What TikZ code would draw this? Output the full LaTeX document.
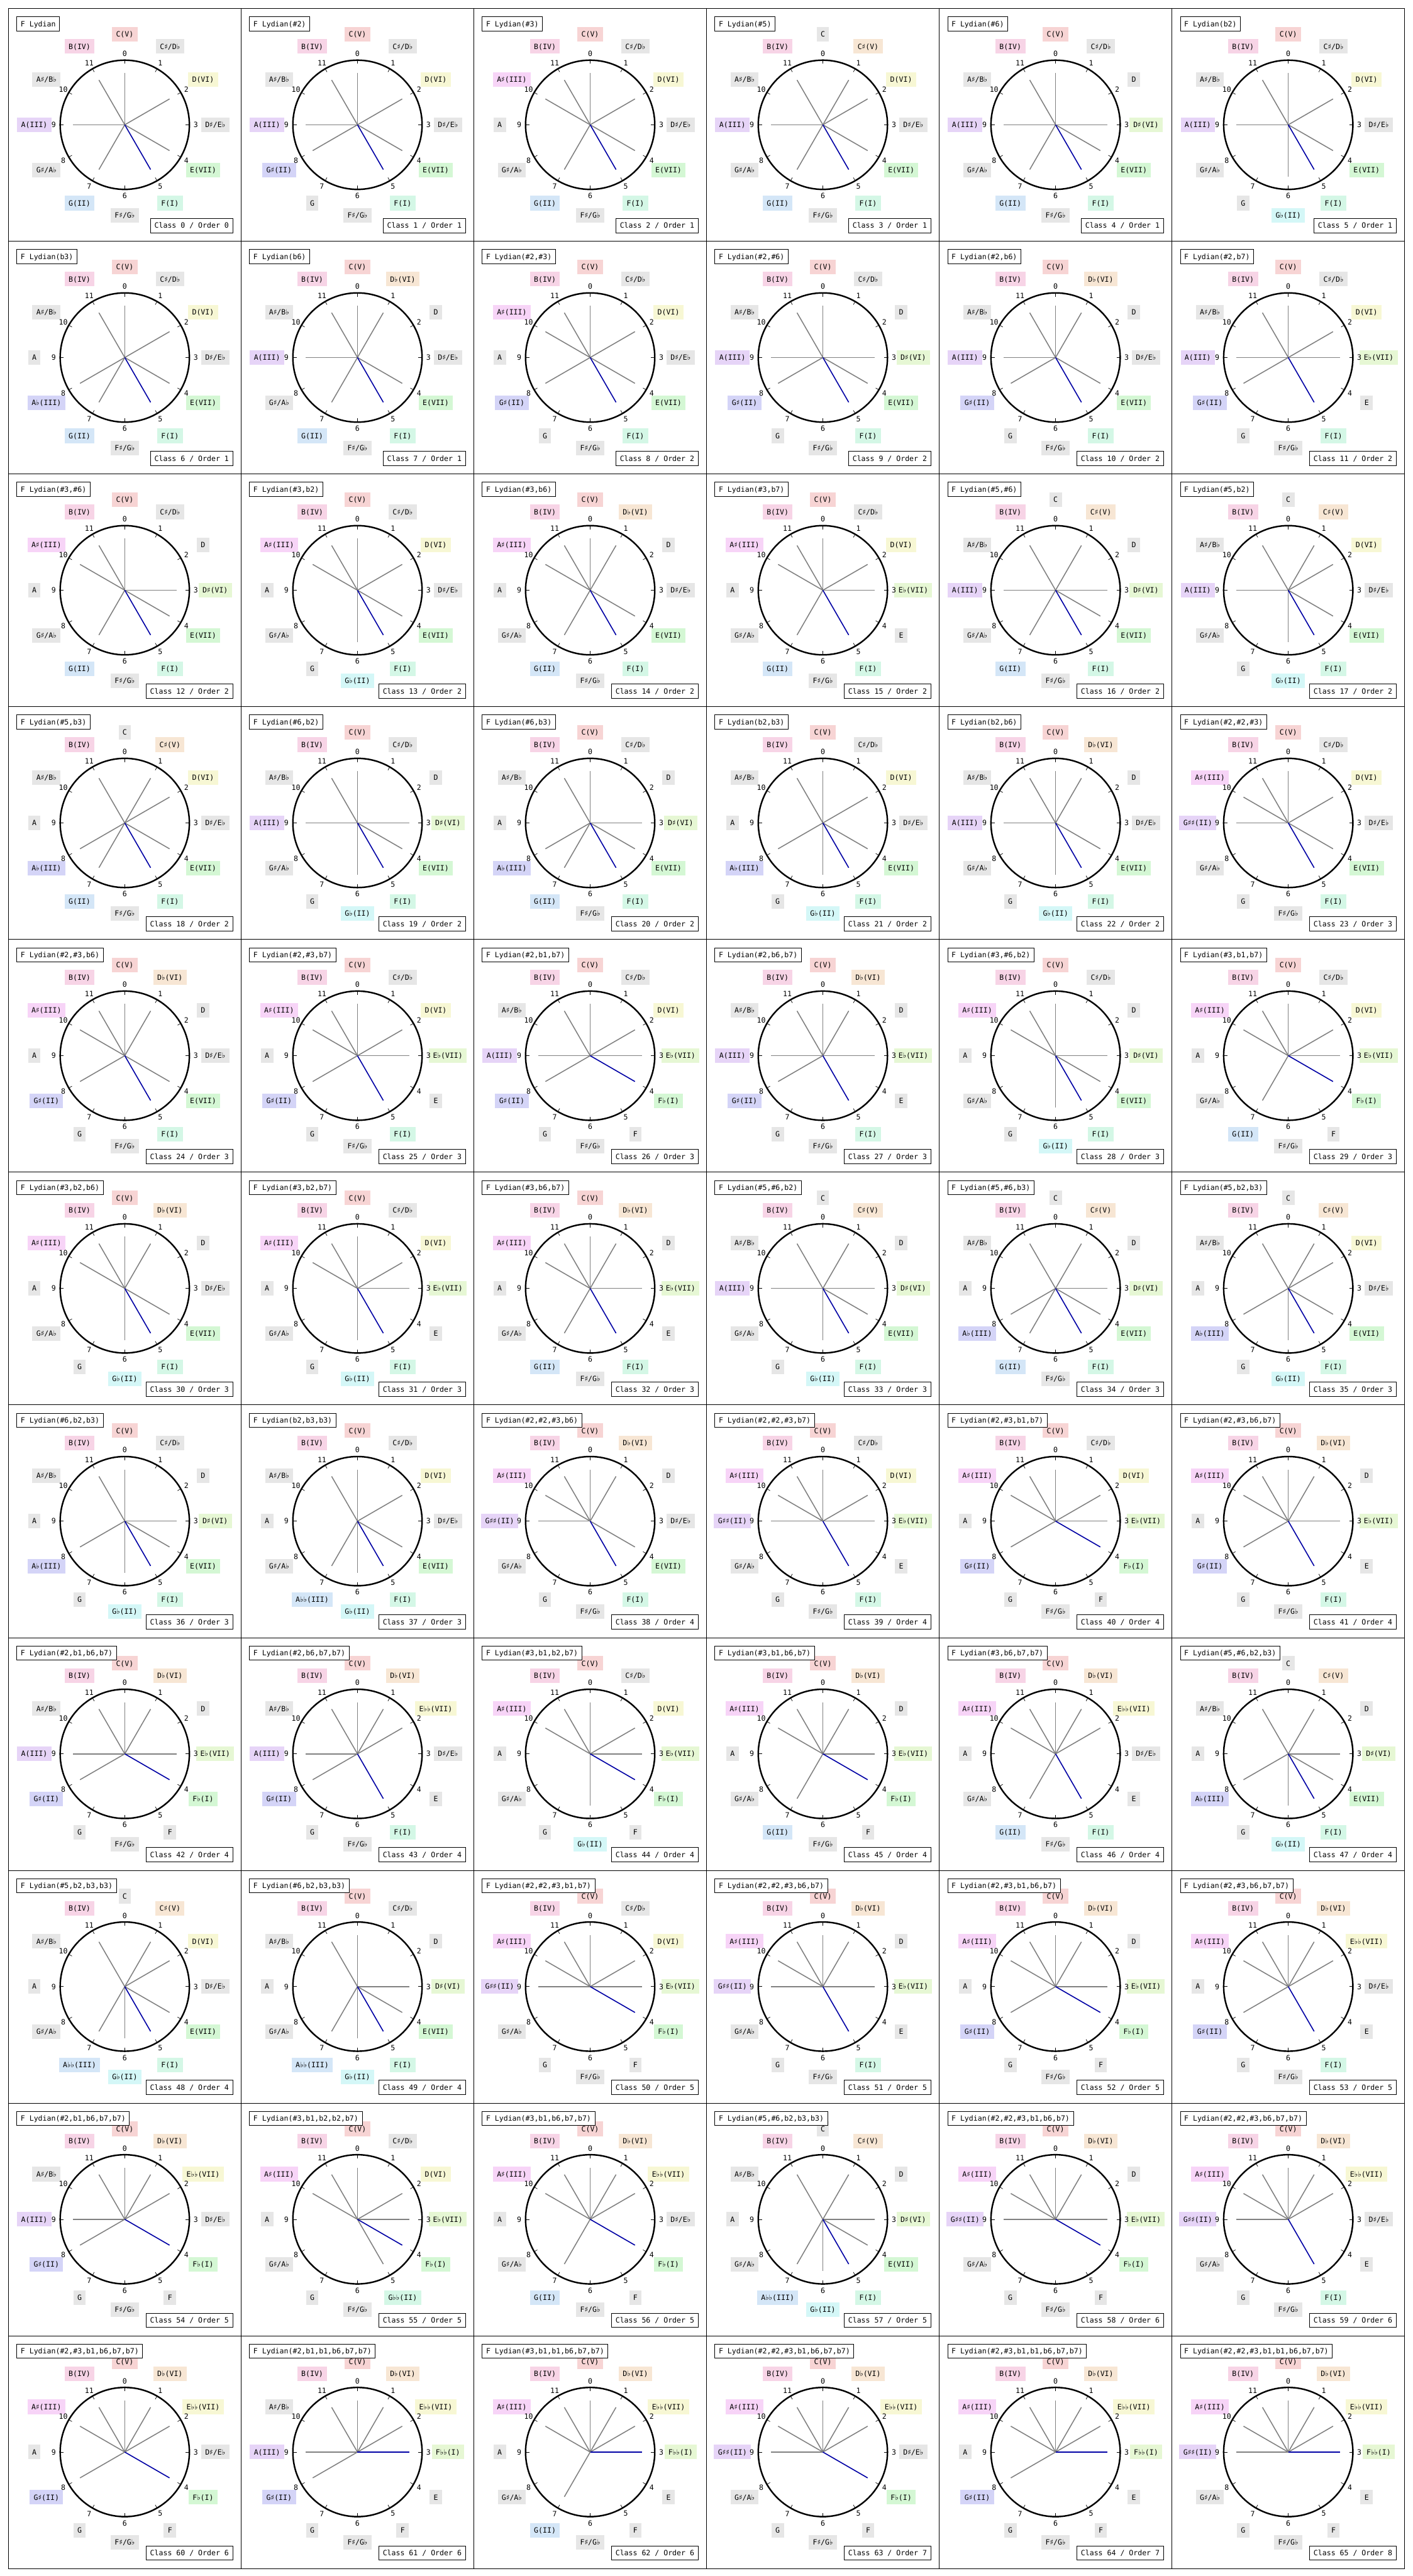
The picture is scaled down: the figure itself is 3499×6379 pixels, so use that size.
\documentclass[tikz,border=0pt]{standalone}
\usepackage{fontspec}
\setmonofont{DejaVu Sans Mono}
\newfontfamily\symfont{DejaVu Sans}
\protected\def\SH{{\symfont ♯}}
\protected\def\FL{{\symfont ♭}}
\definecolor{c0}{RGB}{247,212,212}
\definecolor{c1}{RGB}{247,230,212}
\definecolor{c2}{RGB}{247,247,212}
\definecolor{c3}{RGB}{230,247,212}
\definecolor{c4}{RGB}{212,247,212}
\definecolor{c5}{RGB}{212,247,230}
\definecolor{c6}{RGB}{212,247,247}
\definecolor{c7}{RGB}{212,230,247}
\definecolor{c8}{RGB}{212,212,247}
\definecolor{c9}{RGB}{230,212,247}
\definecolor{c10}{RGB}{247,212,247}
\definecolor{c11}{RGB}{247,212,230}
\definecolor{cg}{RGB}{230,230,230}
\definecolor{spk}{RGB}{128,128,128}
\definecolor{tonic}{RGB}{0,0,165}
\makeatletter
\def\defname#1{\ifcase#1 C\or C\SH/D\FL\or D\or D\SH/E\FL\or E\or F\or F\SH/G\FL\or G\or G\SH/A\FL\or A\or A\SH/B\FL\or B\fi}
\def\accid#1{\ifcase\numexpr#1+2\relax\FL\FL\or\FL\or\or\SH\or\SH\SH\fi}
\def\setdeg#1#2#3#4{%
  \count@=\numexpr#1+#2\relax
  \ifnum\count@<0 \advance\count@ 12 \fi
  \ifnum\count@>11 \advance\count@ -12 \fi
  \edef\pp{\the\count@}%
  \expandafter\edef\csname lab\pp\endcsname{#3\accid{#2}(#4)}%
  \expandafter\def\csname occ\pp\endcsname{1}}
\def\resetocc{\count@=0
  \loop\expandafter\def\csname occ\the\count@\endcsname{0}%
  \advance\count@ 1 \ifnum\count@<12 \repeat}
\def\parseoffs#1,#2,#3,#4,#5,#6,#7\relax{%
  \def\oI{#1}\def\oII{#2}\def\oIII{#3}\def\oIV{#4}\def\oV{#5}\def\oVI{#6}\def\oVII{#7}}
\makeatother
\tikzset{
  panelframe/.style={draw=black,line width=0.1mm},
  notebox/.style={inner xsep=1mm,inner ysep=0.9mm,text height=1.55mm,text depth=0.25mm},
  numlab/.style={inner sep=0pt},
  tbox/.style={draw=black,fill=white,line width=0.15mm,inner xsep=0.95mm,inner ysep=0.85mm,text height=1.55mm,text depth=0.25mm},
  ringline/.style={draw=black,line width=0.38mm},
  tickmark/.style={draw=black,line width=0.11mm},
  spoke/.style={draw=spk,line width=0.24mm},
  tonicspoke/.style={draw=tonic,line width=0.25mm},
}
\newcommand\panel[4]{%
  \resetocc\parseoffs#4\relax
  \setdeg{5}{\oI}{F}{I}\let\posI\pp
  \setdeg{7}{\oII}{G}{II}\let\posII\pp
  \setdeg{9}{\oIII}{A}{III}\let\posIII\pp
  \setdeg{11}{\oIV}{B}{IV}\let\posIV\pp
  \setdeg{0}{\oV}{C}{V}\let\posV\pp
  \setdeg{2}{\oVI}{D}{VI}\let\posVI\pp
  \setdeg{4}{\oVII}{E}{VII}\let\posVII\pp
  \pgfmathsetmacro\px{21+576.3*mod(#1,6)}%
  \pgfmathsetmacro\py{21+576.3*int(#1/6)}%
  \begin{scope}[shift={(\px,\py)}]
    \draw[panelframe] (0,0) rectangle (576.3,576.3);
    \coordinate (O#1) at (288,288);
    \foreach \k in {0,...,11}{%
      \pgfmathsetmacro\sn{sin(30*\k)}%
      \pgfmathsetmacro\cs{cos(30*\k)}%
      \ifnum\csname occ\k\endcsname=1
        \node[notebox,fill=c\k] (N#1-\k) at ({288+224*\sn},{288-224*\cs}) {\csname lab\k\endcsname};
      \else
        \node[notebox,fill=cg] (N#1-\k) at ({288+224*\sn},{288-224*\cs}) {\defname{\k}};
      \fi
      \node[numlab] (D#1-\k) at ({288+176*\sn},{288-176*\cs}) {\k};
      \coordinate (S#1-\k) at ({288+128*\sn},{288-128*\cs});
      \coordinate (TA#1-\k) at ({288+151*\sn},{288-151*\cs});
      \coordinate (TB#1-\k) at ({288+161*\sn},{288-161*\cs});
      \draw[tickmark] (TA#1-\k) -- (TB#1-\k);
    }
    \draw[ringline] (O#1) circle[radius=160];
    \foreach \q in {\posII,\posIII,\posIV,\posV,\posVI,\posVII}{\draw[spoke] (O#1) -- (S#1-\q);}
    \draw[tonicspoke] (O#1) -- (S#1-\posI);
    \node[tbox,anchor=north west] (T#1) at (20,20) {\if\relax\detokenize{#3}\relax F Lydian\else F Lydian(#3)\fi};
    \node[tbox,anchor=south east] (K#1) at (556,556) {Class #1 / Order #2};
  \end{scope}
}
\begin{document}
\begin{tikzpicture}[x=0.1mm,y=-0.1mm,every node/.style={font=\ttfamily\fontsize{5.12pt}{6pt}\selectfont}]
\fill[white] (0,0) rectangle (3499,6379);
\useasboundingbox (0,0) rectangle (3499,6379);
\panel{0}{0}{}{0,0,0,0,0,0,0}
\panel{1}{1}{\#2}{0,1,0,0,0,0,0}
\panel{2}{1}{\#3}{0,0,1,0,0,0,0}
\panel{3}{1}{\#5}{0,0,0,0,1,0,0}
\panel{4}{1}{\#6}{0,0,0,0,0,1,0}
\panel{5}{1}{b2}{0,-1,0,0,0,0,0}
\panel{6}{1}{b3}{0,0,-1,0,0,0,0}
\panel{7}{1}{b6}{0,0,0,0,0,-1,0}
\panel{8}{2}{\#2,\#3}{0,1,1,0,0,0,0}
\panel{9}{2}{\#2,\#6}{0,1,0,0,0,1,0}
\panel{10}{2}{\#2,b6}{0,1,0,0,0,-1,0}
\panel{11}{2}{\#2,b7}{0,1,0,0,0,0,-1}
\panel{12}{2}{\#3,\#6}{0,0,1,0,0,1,0}
\panel{13}{2}{\#3,b2}{0,-1,1,0,0,0,0}
\panel{14}{2}{\#3,b6}{0,0,1,0,0,-1,0}
\panel{15}{2}{\#3,b7}{0,0,1,0,0,0,-1}
\panel{16}{2}{\#5,\#6}{0,0,0,0,1,1,0}
\panel{17}{2}{\#5,b2}{0,-1,0,0,1,0,0}
\panel{18}{2}{\#5,b3}{0,0,-1,0,1,0,0}
\panel{19}{2}{\#6,b2}{0,-1,0,0,0,1,0}
\panel{20}{2}{\#6,b3}{0,0,-1,0,0,1,0}
\panel{21}{2}{b2,b3}{0,-1,-1,0,0,0,0}
\panel{22}{2}{b2,b6}{0,-1,0,0,0,-1,0}
\panel{23}{3}{\#2,\#2,\#3}{0,2,1,0,0,0,0}
\panel{24}{3}{\#2,\#3,b6}{0,1,1,0,0,-1,0}
\panel{25}{3}{\#2,\#3,b7}{0,1,1,0,0,0,-1}
\panel{26}{3}{\#2,b1,b7}{-1,1,0,0,0,0,-1}
\panel{27}{3}{\#2,b6,b7}{0,1,0,0,0,-1,-1}
\panel{28}{3}{\#3,\#6,b2}{0,-1,1,0,0,1,0}
\panel{29}{3}{\#3,b1,b7}{-1,0,1,0,0,0,-1}
\panel{30}{3}{\#3,b2,b6}{0,-1,1,0,0,-1,0}
\panel{31}{3}{\#3,b2,b7}{0,-1,1,0,0,0,-1}
\panel{32}{3}{\#3,b6,b7}{0,0,1,0,0,-1,-1}
\panel{33}{3}{\#5,\#6,b2}{0,-1,0,0,1,1,0}
\panel{34}{3}{\#5,\#6,b3}{0,0,-1,0,1,1,0}
\panel{35}{3}{\#5,b2,b3}{0,-1,-1,0,1,0,0}
\panel{36}{3}{\#6,b2,b3}{0,-1,-1,0,0,1,0}
\panel{37}{3}{b2,b3,b3}{0,-1,-2,0,0,0,0}
\panel{38}{4}{\#2,\#2,\#3,b6}{0,2,1,0,0,-1,0}
\panel{39}{4}{\#2,\#2,\#3,b7}{0,2,1,0,0,0,-1}
\panel{40}{4}{\#2,\#3,b1,b7}{-1,1,1,0,0,0,-1}
\panel{41}{4}{\#2,\#3,b6,b7}{0,1,1,0,0,-1,-1}
\panel{42}{4}{\#2,b1,b6,b7}{-1,1,0,0,0,-1,-1}
\panel{43}{4}{\#2,b6,b7,b7}{0,1,0,0,0,-1,-2}
\panel{44}{4}{\#3,b1,b2,b7}{-1,-1,1,0,0,0,-1}
\panel{45}{4}{\#3,b1,b6,b7}{-1,0,1,0,0,-1,-1}
\panel{46}{4}{\#3,b6,b7,b7}{0,0,1,0,0,-1,-2}
\panel{47}{4}{\#5,\#6,b2,b3}{0,-1,-1,0,1,1,0}
\panel{48}{4}{\#5,b2,b3,b3}{0,-1,-2,0,1,0,0}
\panel{49}{4}{\#6,b2,b3,b3}{0,-1,-2,0,0,1,0}
\panel{50}{5}{\#2,\#2,\#3,b1,b7}{-1,2,1,0,0,0,-1}
\panel{51}{5}{\#2,\#2,\#3,b6,b7}{0,2,1,0,0,-1,-1}
\panel{52}{5}{\#2,\#3,b1,b6,b7}{-1,1,1,0,0,-1,-1}
\panel{53}{5}{\#2,\#3,b6,b7,b7}{0,1,1,0,0,-1,-2}
\panel{54}{5}{\#2,b1,b6,b7,b7}{-1,1,0,0,0,-1,-2}
\panel{55}{5}{\#3,b1,b2,b2,b7}{-1,-2,1,0,0,0,-1}
\panel{56}{5}{\#3,b1,b6,b7,b7}{-1,0,1,0,0,-1,-2}
\panel{57}{5}{\#5,\#6,b2,b3,b3}{0,-1,-2,0,1,1,0}
\panel{58}{6}{\#2,\#2,\#3,b1,b6,b7}{-1,2,1,0,0,-1,-1}
\panel{59}{6}{\#2,\#2,\#3,b6,b7,b7}{0,2,1,0,0,-1,-2}
\panel{60}{6}{\#2,\#3,b1,b6,b7,b7}{-1,1,1,0,0,-1,-2}
\panel{61}{6}{\#2,b1,b1,b6,b7,b7}{-2,1,0,0,0,-1,-2}
\panel{62}{6}{\#3,b1,b1,b6,b7,b7}{-2,0,1,0,0,-1,-2}
\panel{63}{7}{\#2,\#2,\#3,b1,b6,b7,b7}{-1,2,1,0,0,-1,-2}
\panel{64}{7}{\#2,\#3,b1,b1,b6,b7,b7}{-2,1,1,0,0,-1,-2}
\panel{65}{8}{\#2,\#2,\#3,b1,b1,b6,b7,b7}{-2,2,1,0,0,-1,-2}
\end{tikzpicture}
\end{document}
